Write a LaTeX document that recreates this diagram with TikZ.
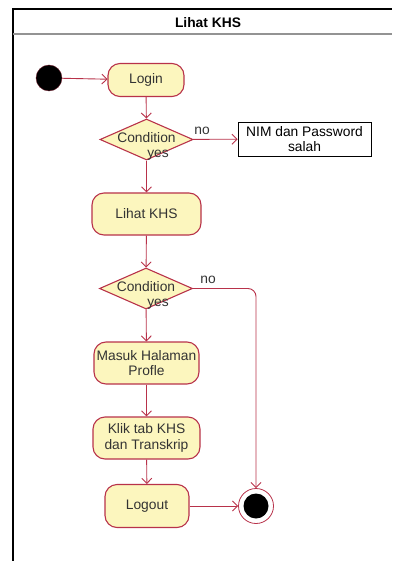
\documentclass[tikz,border=0pt]{standalone}
\usepackage{fontspec}
\setmainfont{Liberation Sans}
\usetikzlibrary{arrows.meta,shapes.geometric}
\definecolor{umlred}{HTML}{B8324A}
\definecolor{umlfill}{HTML}{FCF6BE}
\definecolor{umltext}{HTML}{333333}
\begin{document}
\begin{tikzpicture}[x=1pt,y=-1pt,
  font=\fontsize{13.8}{15.5}\selectfont,
  action/.style={draw=umlred,line width=1.1pt,fill=umlfill,rounded corners=12pt,
    text=umltext,align=center,inner sep=0pt},
  decision/.style={draw=umlred,line width=1.1pt,fill=umlfill,diamond,inner sep=0pt,
    minimum width=93pt,minimum height=41pt,
    label={[text=umltext,yshift=2pt]center:Condition}},
  flow/.style={draw=umlred,line width=0.9pt,-{Straight Barb[length=5pt,width=10pt,line width=0.9pt]}},
  guard/.style={text=umltext,inner sep=0pt}]
  \useasboundingbox (0,0) rectangle (392,561);
  % swimlane frame
  \draw[line width=1.2pt] (13,561) -- (13,9) -- (392,9);
  \draw[line width=1.6pt,gray!85] (13,34) -- (392,34);
  \node (title) at (208,23) {\bfseries Lihat KHS};

  % start and end
  \node[circle,fill=black,draw=umlred!60!black,minimum size=26pt,inner sep=0pt] (start) at (49,78) {};
  \node[circle,draw=umlred,line width=0.8pt,fill=white,minimum size=35pt,inner sep=0pt] (end) at (256,506) {};
  \fill[black] (end.center) circle (12.5pt);

  % actions
  \node[action,minimum width=76pt,minimum height=33pt] (login) at (146,80) {Login};
  \node[decision] (d1) at (146.5,139.5) {};
  \node[draw=black,line width=0.9pt,fill=white,align=center,inner sep=0pt,
    minimum width=133pt,minimum height=34pt] (nim) at (304.5,139) {NIM dan Password\\salah};
  \node[action,minimum width=109pt,minimum height=42pt] (lihat) at (146.5,214) {Lihat KHS};
  \node[decision] (d2) at (146,288.5) {};
  \node[action,minimum width=105pt,minimum height=42pt] (masuk) at (146.5,363) {Masuk Halaman\\Profle};
  \node[action,minimum width=107pt,minimum height=42pt] (klik) at (146.5,438) {Klik tab KHS\\dan Transkrip};
  \node[action,minimum width=84pt,minimum height=43pt] (logout) at (147,506) {Logout};

  % flows
  \draw[flow] (start) -- (login);
  \draw[flow] (login) -- (d1);
  \draw[flow] (d1) -- (nim);
  \draw[flow] (d1) -- (lihat);
  \draw[flow] (lihat) -- (d2);
  \draw[flow] (d2) -- (masuk);
  \draw[flow,rounded corners=8pt] (d2.east) -| (end.north);
  \draw[flow] (masuk) -- (klik);
  \draw[flow] (klik) -- (logout);
  \draw[flow] (logout) -- (end);

  % guards
  \node[guard] (no1) at (202,131) {no};
  \node[guard] (yes1) at (158,155.5) {yes};
  \node[guard] (no2) at (208,280) {no};
  \node[guard] (yes2) at (158,304.5) {yes};
\end{tikzpicture}
\end{document}
